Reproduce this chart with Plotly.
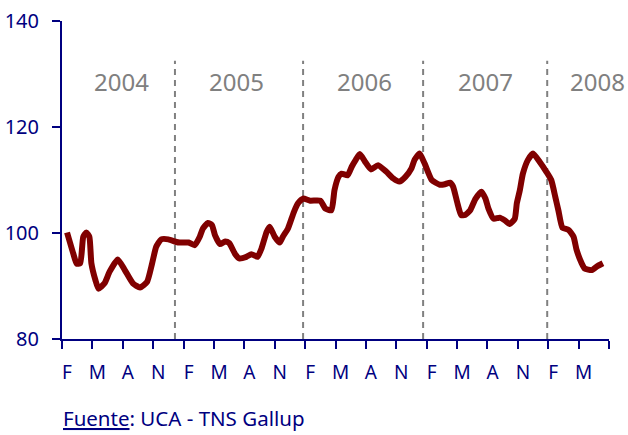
import plotly.graph_objects as go

# Index values; t = months since Feb 2004 (0 = Feb 2004)
t = [0.0, 0.6, 0.95, 1.3, 1.6, 1.9, 2.2, 2.4, 2.8, 3.1, 3.7, 4.2, 5.0, 5.7, 6.5, 7.2, 7.9,
     8.4, 8.8, 9.3, 10.0, 10.8, 11.1, 12.0, 12.6, 13.1, 13.4, 13.9, 14.3, 14.6, 15.1, 15.6,
     16.0, 16.6, 17.0, 17.7, 18.2, 18.8, 19.2, 19.7, 20.0, 20.5, 21.0, 21.3, 21.8, 22.4,
     22.8, 23.3, 24.0, 25.0, 25.5, 26.1, 26.4, 26.8, 27.1, 27.7, 28.1, 28.5, 28.9, 29.4,
     30.0, 30.7, 31.5, 32.2, 32.8, 33.4, 34.0, 34.3, 34.8, 35.3, 36.0, 36.8, 37.3, 37.8,
     38.1, 38.5, 38.9, 39.3, 39.8, 40.3, 40.9, 41.3, 41.6, 42.1, 42.7, 43.2, 43.7, 44.2,
     44.4, 44.7, 45.0, 45.5, 46.0, 46.7, 47.3, 47.8, 48.2, 48.5, 48.9, 49.5, 50.0, 50.3,
     50.8, 51.1, 51.8, 52.4, 52.9]
values = [100.1, 96.2, 94.2, 94.3, 99.3, 100.1, 99.3, 94.3, 91.1, 89.5, 90.5, 92.7, 95.0,
          93.0, 90.5, 89.7, 90.8, 94.3, 97.4, 98.8, 98.8, 98.3, 98.2, 98.2, 97.7, 99.3,
          100.8, 101.9, 101.5, 99.6, 97.9, 98.4, 98.1, 96.0, 95.2, 95.5, 96.0, 95.5, 97.1,
          100.2, 101.2, 99.3, 98.2, 99.3, 100.8, 104.0, 105.6, 106.5, 106.1, 106.1, 104.6,
          104.3, 108.1, 110.6, 111.2, 110.9, 112.5, 113.8, 114.9, 113.5, 112.0, 112.8,
          111.6, 110.3, 109.7, 110.6, 112.2, 113.8, 115.0, 113.1, 110.0, 109.1, 109.2,
          109.5, 108.8, 105.9, 103.4, 103.4, 104.3, 106.4, 107.8, 106.5, 104.6, 102.7,
          102.9, 102.4, 101.7, 102.7, 105.6, 108.1, 111.2, 113.8, 115.0, 113.3, 111.6,
          110.0, 106.8, 104.3, 101.0, 100.6, 99.3, 96.8, 94.3, 93.3, 93.0, 93.8, 94.3]

tick_labels = ["F", "M", "A", "N"] * 4 + ["F", "M"]
tick_label_pos = [3 * i for i in range(len(tick_labels))]
tick_marks = [3 * i - 0.5 for i in range(19)]

years = ["2004", "2005", "2006", "2007", "2008"]
year_pos = [5.4, 16.7, 29.4, 41.3, 52.4]
year_dividers = [10.65, 23.3, 35.15, 47.4]

y_ticks = [80, 100, 120, 140]

NAVY = "#000080"
FONT = "Noto Sans"

fig = go.Figure()
fig.add_trace(go.Scatter(
    x=t, y=values, mode="lines",
    line=dict(color="#800000", width=6, shape="spline", smoothing=0.5),
    hoverinfo="skip", showlegend=False, cliponaxis=False,
))
# invisible trace on overlaid axis for tick labels
fig.add_trace(go.Scatter(x=[tick_label_pos[0]], y=[80], xaxis="x2", mode="markers",
                         marker=dict(opacity=0), showlegend=False, hoverinfo="skip"))

for xd in year_dividers:
    fig.add_shape(type="line", x0=xd, x1=xd, y0=80, y1=132.5, xref="x", yref="y",
                  line=dict(color="#808080", width=2, dash="6px,5px"), layer="below")

for name, xp in zip(years, year_pos):
    fig.add_annotation(x=xp, y=128.5, xref="x", yref="y", text=name, showarrow=False,
                       font=dict(family=FONT, size=24, color="#808080"),
                       xanchor="center", yanchor="middle")

fig.add_annotation(x=-0.002, y=-0.248, xref="paper", yref="paper",
                   text="<u>Fuente</u>: UCA - TNS Gallup", showarrow=False,
                   xanchor="left", yanchor="middle",
                   font=dict(family=FONT, size=20.5, color=NAVY))

fig.update_layout(
    width=628, height=435,
    margin=dict(l=62, r=19, t=21, b=96, autoexpand=False),
    plot_bgcolor="white", paper_bgcolor="white",
    xaxis=dict(range=[-0.5, 53.5], tickvals=tick_marks, showticklabels=False,
               ticks="outside", ticklen=8, tickwidth=2, tickcolor=NAVY,
               showline=True, linecolor=NAVY, linewidth=2, showgrid=False,
               zeroline=False, fixedrange=True, automargin=False),
    xaxis2=dict(range=[-0.5, 53.5], overlaying="x", anchor="y", side="bottom",
                tickvals=tick_label_pos, ticktext=tick_labels, ticks="",
                ticklabelstandoff=20, showline=False, showgrid=False, zeroline=False,
                automargin=False,
                tickfont=dict(family=FONT, size=19, color=NAVY)),
    yaxis=dict(range=[80, 140], tickvals=y_ticks, ticks="outside", ticklen=8,
               tickwidth=2, tickcolor=NAVY, showline=True, linecolor=NAVY,
               linewidth=2, showgrid=False, zeroline=False, automargin=False,
               ticklabelstandoff=9,
               tickfont=dict(family=FONT, size=20, color=NAVY)),
)

fig.write_html("out.html", config={"displayModeBar": False},
               post_script="document.body.style.margin='0px';document.body.style.overflow='hidden';")
